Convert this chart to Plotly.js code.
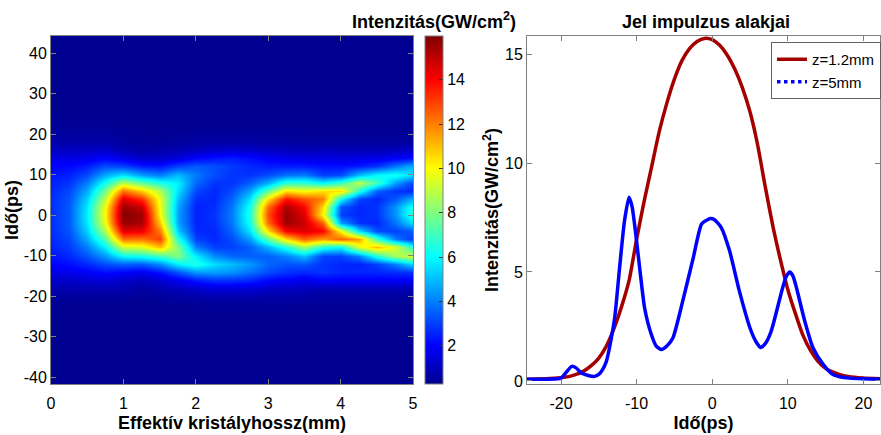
<!DOCTYPE html>
<html>
<head>
<meta charset="utf-8">
<script src="https://cdn.plot.ly/plotly-3.0.1.min.js"></script>
<style>html,body{margin:0;padding:0;background:#fff}#chart{width:881px;height:435px}</style>
</head>
<body>
<div id="chart"></div>
<script>
// ---------- Heatmap data ----------
// crystal length (mm) positions of grid columns
var lengthMM = [0, 0.25, 0.5, 0.75, 1.0, 1.25, 1.5, 1.75, 2.0, 2.25, 2.5, 2.75, 3.0, 3.25, 3.5, 3.75, 4.0, 4.25, 4.5, 4.75, 5.0];
// time (ps) positions of grid rows
var timePS = [-41.7, -26, -22, -20, -18, -16, -14, -12, -10, -8, -6, -4, -2, 0, 2, 4, 6, 8, 10, 12, 14, 16, 18, 22, 26, 44.2];
// intensity (GW/cm^2), one list per crystal-length column, ordered along timePS
var col000 = [0.3,0.3,0.35,0.5,0.8,1.2,1.6,2.0,2.3,2.5,2.6,2.7,2.7,2.7,2.7,2.7,2.6,2.5,2.3,2.0,1.6,1.1,0.7,0.4,0.3,0.3];
var col025 = [0.3,0.3,0.35,0.5,0.8,1.2,1.7,2.2,2.6,2.9,3.1,3.3,3.4,3.4,3.4,3.3,3.1,2.8,2.5,2.1,1.6,1.1,0.7,0.4,0.3,0.3];
var col050 = [0.3,0.3,0.35,0.5,0.8,1.3,1.9,2.6,3.3,4.0,4.7,5.3,5.7,5.8,5.7,5.3,4.7,4.0,3.2,2.4,1.7,1.1,0.7,0.4,0.3,0.3];
var col075 = [0.3,0.3,0.35,0.5,0.8,1.4,2.2,3.2,4.4,5.8,7.3,8.7,9.7,10.0,9.8,9.0,7.8,6.3,4.7,3.2,2.0,1.2,0.7,0.4,0.3,0.3];
var col100 = [0.3,0.3,0.35,0.5,0.8,1.2,2.0,3.5,6.0,9.2,12.2,14.4,15.6,15.9,15.6,14.5,12.3,9.0,5.6,3.0,1.6,0.8,0.5,0.35,0.3,0.3];
var col125 = [0.3,0.3,0.3,0.4,0.6,1.0,1.8,3.4,6.3,9.5,12.1,14.2,15.3,15.5,14.8,13.3,10.8,7.6,4.5,2.4,1.2,0.6,0.4,0.3,0.3,0.3];
var col150 = [0.3,0.3,0.35,0.5,0.8,1.3,2.3,4.2,7.0,11.0,13.0,12.0,10.8,10.0,9.8,9.6,8.8,6.5,4.0,2.3,1.2,0.7,0.45,0.3,0.3,0.3];
var col175 = [0.3,0.3,0.35,0.6,1.0,1.8,3.3,5.8,8.0,8.0,6.5,5.2,4.6,4.5,4.6,5.0,5.5,5.8,5.0,3.0,1.5,0.8,0.5,0.3,0.3,0.3];
var col200 = [0.3,0.3,0.4,0.7,1.3,2.4,4.4,6.5,5.8,4.0,3.0,2.6,2.5,2.5,2.5,2.7,3.1,3.6,3.9,3.4,2.0,1.0,0.6,0.35,0.3,0.3];
var col225 = [0.3,0.3,0.45,0.8,1.5,2.8,4.5,5.5,4.2,3.0,2.6,2.6,2.7,2.8,2.7,2.6,2.6,2.8,3.2,3.2,2.3,1.2,0.6,0.35,0.3,0.3];
var col250 = [0.3,0.3,0.45,0.8,1.5,2.8,4.3,5.0,3.6,3.0,3.2,3.6,3.9,4.0,3.9,3.6,3.2,2.8,2.8,2.9,2.4,1.3,0.6,0.35,0.3,0.3];
var col275 = [0.3,0.3,0.45,0.8,1.4,2.6,3.8,4.4,3.5,3.5,4.5,5.6,6.3,6.5,6.3,5.6,4.6,3.5,2.8,2.6,2.2,1.2,0.6,0.35,0.3,0.3];
var col300 = [0.3,0.3,0.45,0.7,1.2,2.1,3.2,3.6,3.5,4.8,7.5,10.5,12.3,12.8,12.3,10.5,7.5,4.8,3.2,2.4,1.9,1.1,0.55,0.35,0.3,0.3];
var col325 = [0.3,0.3,0.45,0.7,1.1,1.9,2.8,3.3,4.0,6.5,10.5,14.0,15.5,15.6,15.3,13.8,10.5,6.8,3.8,2.4,1.7,1.0,0.55,0.35,0.3,0.3];
var col350 = [0.3,0.3,0.4,0.65,1.0,1.7,2.6,3.4,5.0,8.5,12.5,14.5,14.8,14.5,14.0,12.8,10.0,6.8,4.0,2.4,1.6,0.9,0.5,0.35,0.3,0.3];
var col375 = [0.3,0.3,0.4,0.5,0.9,2.0,2.8,2.8,3.0,6.5,11.5,14.0,12.5,10.0,10.5,12.0,10.5,6.0,3.0,2.2,1.6,1.0,0.5,0.35,0.3,0.3];
var col400 = [0.3,0.3,0.4,0.5,0.9,1.9,2.6,2.6,3.0,6.0,12.5,10.0,4.5,3.0,3.3,6.0,10.5,7.0,3.2,2.2,1.5,0.9,0.5,0.35,0.3,0.3];
var col425 = [0.3,0.3,0.4,0.5,0.9,1.9,2.6,2.5,4.0,9.5,11.5,5.5,2.8,2.6,2.6,3.0,6.5,9.0,5.0,2.4,1.6,0.9,0.5,0.35,0.3,0.3];
var col450 = [0.3,0.3,0.4,0.5,0.9,1.9,2.6,3.0,6.5,11.0,7.0,3.2,2.6,2.8,2.8,2.6,3.5,7.0,6.0,2.8,1.7,0.9,0.5,0.35,0.3,0.3];
var col475 = [0.3,0.3,0.4,0.5,0.9,1.9,2.7,4.0,8.5,9.5,4.0,3.0,3.8,4.3,4.3,3.4,2.8,4.5,6.3,3.8,1.9,1.0,0.5,0.35,0.3,0.3];
var col500 = [0.3,0.3,0.4,0.5,0.9,1.9,2.8,5.5,9.3,6.5,2.8,3.5,5.5,6.8,6.5,4.8,2.6,3.0,5.5,4.8,2.2,1.2,0.5,0.35,0.3,0.3];

// ---------- Pulse-shape data ----------
var tRed = [-24.5,-22,-20,-19,-18,-17,-16,-15,-14,-13,-12,-11,-10,-9,-8,-7,-6,-5,-4,-3,-2,-1,0,1,2,3,4,5,6,7,8,9,10,11,12,13,14,15,16,17,18,20,22.2];
var iRed = [0.08,0.1,0.15,0.2,0.3,0.45,0.7,1.05,1.6,2.4,3.4,4.6,6.5,8.25,9.85,11.45,12.75,13.85,14.7,15.25,15.58,15.72,15.66,15.4,14.95,14.3,13.45,12.35,10.85,8.95,7.15,5.6,4.2,3.1,2.1,1.4,0.9,0.58,0.4,0.28,0.2,0.13,0.1];
var tBlue = [-24.5,-22,-20.5,-20,-19.3,-18.6,-18,-17.3,-16.4,-15.6,-15,-14.5,-14,-13.6,-12.9,-12.25,-11.6,-11.0,-10.6,-10.2,-9.6,-8.94,-8.05,-7.4,-6.7,-6,-5.2,-3.9,-2.5,-1.4,-0.6,-0.2,0.3,1.2,2.3,3.6,5.0,5.8,6.4,7.0,7.8,9.2,9.8,10.3,10.7,11.15,12.25,13.35,14.7,16.0,17,18.2,20,22.2];
var iBlue = [0.08,0.08,0.1,0.13,0.4,0.67,0.6,0.36,0.25,0.21,0.3,0.52,0.9,1.5,2.9,5.2,7.35,8.43,8.0,7.0,5.2,3.35,2.13,1.6,1.44,1.6,1.97,3.66,5.66,7.2,7.4,7.45,7.4,7.04,5.97,4.12,2.43,1.8,1.54,1.7,2.28,4.12,4.8,5.0,4.8,4.28,2.74,1.51,0.75,0.29,0.18,0.13,0.1,0.08];

var seriesNames = ['z=1.2mm', 'z=5mm'];
var xTickVals = [-20, -10, 0, 10, 20];
var xTickText = ['-20', '-10', '0', '10', '20'];
var hmYTickVals = [-40, -30, -20, -10, 0, 10, 20, 30, 40];
var hmYTickText = ['-40', '-30', '-20', '-10', '0', '10', '20', '30', '40'];

var columns = [col000,col025,col050,col075,col100,col125,col150,col175,col200,col225,col250,col275,col300,col325,col350,col375,col400,col425,col450,col475,col500];

var FONT = 'Liberation Sans, Arial, Helvetica, sans-serif';
var W = 881, H = 435;
function px(x){ return x / W; }

var jet = [
  [0, 'rgb(0,0,143)'],
  [0.111, 'rgb(0,0,255)'],
  [0.365, 'rgb(0,255,255)'],
  [0.619, 'rgb(255,255,0)'],
  [0.873, 'rgb(255,0,0)'],
  [1, 'rgb(128,0,0)']
];

var axisCommon = {
  showgrid: false, zeroline: false, showline: true, mirror: 'ticks',
  linecolor: '#808080', linewidth: 1, ticks: 'inside', ticklen: 5,
  tickcolor: '#808080', tickfont: {family: FONT, size: 16, color: '#000'}
};

var traces = [
  {
    type: 'heatmap', x: lengthMM, y: timePS, z: columns, transpose: true,
    zsmooth: 'best', colorscale: jet, zmin: 0.27, zmax: 15.98,
    xaxis: 'x', yaxis: 'y', showscale: true, hoverinfo: 'skip',
    colorbar: {
      x: px(425), xanchor: 'left', xpad: 0, ypad: 0,
      y: 0.5, yanchor: 'middle', len: 1, lenmode: 'fraction',
      thickness: 18, thicknessmode: 'pixels',
      outlinewidth: 1, outlinecolor: '#808080',
      ticks: 'inside', ticklen: 4, tickcolor: '#333',
      tickvals: [2,4,6,8,10,12,14],
      tickfont: {family: FONT, size: 16, color: '#000'}
    }
  },
  {
    type: 'scatter', mode: 'lines', x: tRed, y: iRed, name: seriesNames[0],
    xaxis: 'x2', yaxis: 'y2', line: {color: 'rgb(165,0,0)', width: 3.5, shape: 'spline', smoothing: 0.6}
  },
  {
    type: 'scatter', mode: 'lines', x: tBlue, y: iBlue, name: seriesNames[1], showlegend: false,
    xaxis: 'x2', yaxis: 'y2', line: {color: 'rgb(0,0,255)', width: 3.5, shape: 'spline', smoothing: 0.6}
  },
  {
    type: 'scatter', mode: 'lines', x: [null], y: [null], name: seriesNames[1],
    xaxis: 'x2', yaxis: 'y2', line: {color: 'rgb(0,0,255)', width: 3.5, dash: 'dot'}
  }
];

var layout = {
  width: W, height: H, autosize: false,
  margin: {l: 0, r: 0, t: 36, b: 51, pad: 0},
  paper_bgcolor: '#fff', plot_bgcolor: '#fff',
  font: {family: FONT, size: 16, color: '#000'},
  showlegend: true,
  legend: {
    x: 1, xanchor: 'right', y: (384 - 42) / 348, yanchor: 'top',
    bgcolor: '#fff', bordercolor: '#606060', borderwidth: 1,
    font: {family: FONT, size: 15, color: '#000'},
    tracegroupgap: 0, itemwidth: 30
  },
  xaxis: Object.assign({}, axisCommon, {
    domain: [px(51), px(413)], range: [0, 5], anchor: 'y',
    tickvals: [0,1,2,3,4,5], mirror: 'all', ticklabelstandoff: 5,
    title: {text: '<b>Effektív kristályhossz(mm)</b>', font: {family: FONT, size: 18, color: '#000'}, standoff: 5}
  }),
  yaxis: Object.assign({}, axisCommon, {
    domain: [0, 1], range: [-41.7, 44.2], anchor: 'x',
    tickvals: hmYTickVals, ticktext: hmYTickText, mirror: 'all',
    title: {text: '<b>Idő(ps)</b>', font: {family: FONT, size: 18, color: '#000'}, standoff: 0}
  }),
  xaxis2: Object.assign({}, axisCommon, {
    domain: [px(527), px(880)], range: [-24.5, 22.2], anchor: 'y2',
    tickvals: xTickVals, ticktext: xTickText, ticklabelstandoff: 5,
    title: {text: '<b>Idő(ps)</b>', font: {family: FONT, size: 18, color: '#000'}, standoff: 5}
  }),
  yaxis2: Object.assign({}, axisCommon, {
    domain: [0, 1], range: [-0.14, 15.83], anchor: 'x2',
    tickvals: [0, 5, 10, 15],
    title: {text: '<b>Intenzitás(GW/cm<sup>2</sup>)</b>', font: {family: FONT, size: 18, color: '#000'}, standoff: 1}
  }),
  annotations: [
    {
      text: '<b>Jel impulzus alakjai</b>', xref: 'paper', yref: 'paper',
      x: px(706), y: 1, yshift: 2, xanchor: 'center', yanchor: 'bottom', showarrow: false,
      font: {family: FONT, size: 18, color: '#000'}
    },
    {
      text: '<b>Intenzitás(GW/cm<sup>2</sup>)</b>', xref: 'paper', yref: 'paper',
      x: px(434), y: 1, yshift: 2, xanchor: 'center', yanchor: 'bottom', showarrow: false,
      font: {family: FONT, size: 18, color: '#000'}
    }
  ]
};

Plotly.newPlot('chart', traces, layout, {displayModeBar: false, staticPlot: true});
</script>
</body>
</html>
